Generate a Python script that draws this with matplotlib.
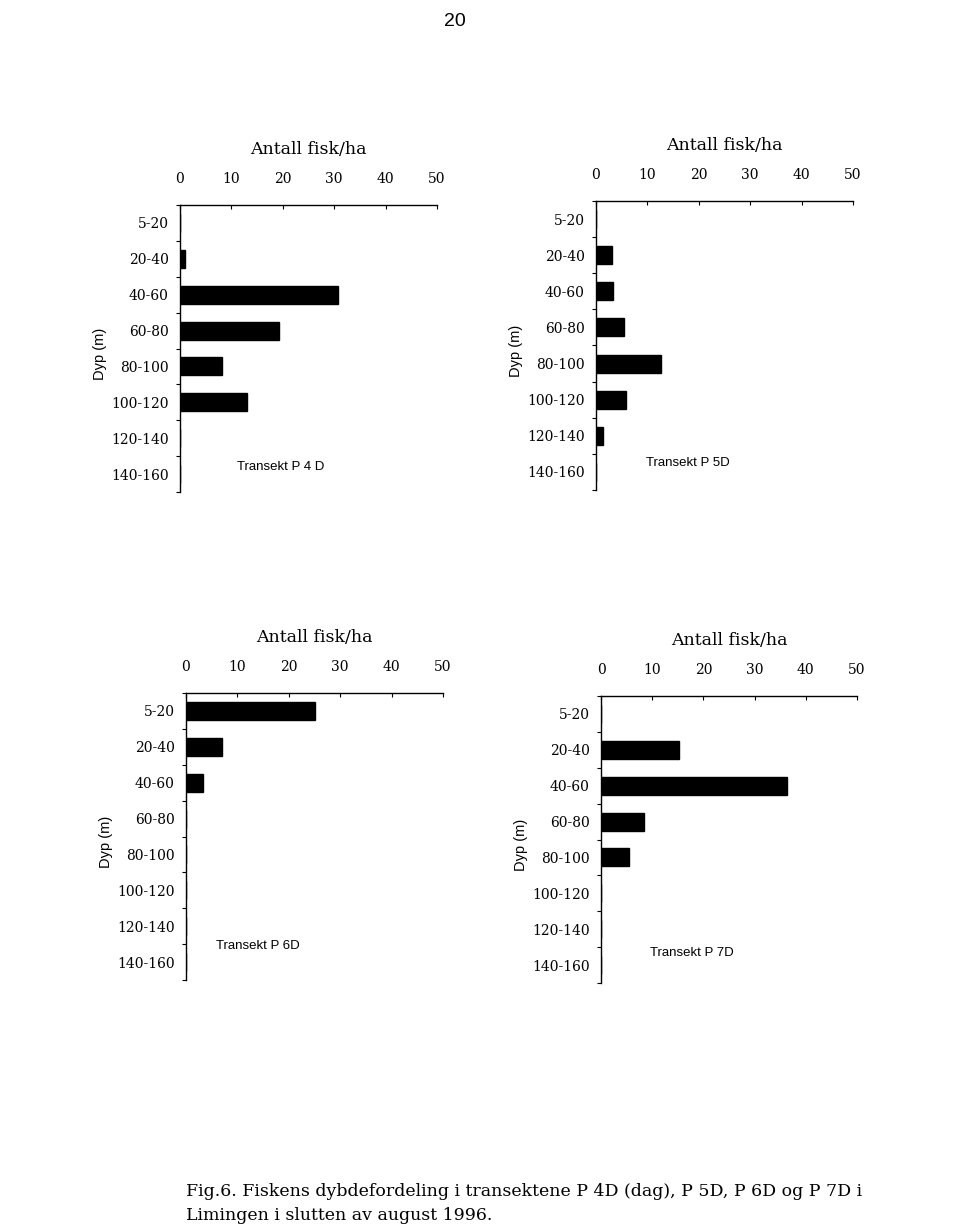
"""Fiskens dybdefordeling i transektene P 4D, P 5D, P 6D og P 7D (Limingen, aug. 1996)."""

import matplotlib
matplotlib.use("Agg")
import matplotlib.pyplot as plt
import numpy as np

SERIF = "DejaVu Serif"
SANS = "Liberation Sans"

# ── Data ──────────────────────────────────────────────────────────────────────
dyp = ["5-20", "20-40", "40-60", "60-80", "80-100", "100-120", "120-140", "140-160"]

p4d = [0, 1.0, 30.8, 19.2, 8.1, 13.0, 0, 0]
p5d = [0, 3.1, 3.3, 5.5, 12.6, 5.8, 1.4, 0]
p6d = [25.1, 7.1, 3.4, 0, 0, 0, 0, 0]
p7d = [0, 15.3, 36.4, 8.4, 5.4, 0, 0, 0]

transekt = ["Transekt P 4 D", "Transekt P 5D", "Transekt P 6D", "Transekt P 7D"]
serier = [p4d, p5d, p6d, p7d]

# ── Figure ────────────────────────────────────────────────────────────────────
W, H = 960, 1227
fig = plt.figure(figsize=(W / 100, H / 100), dpi=100)
fig.patch.set_facecolor("white")


def px_axes(x0, y_top, x1, y_bot):
    return fig.add_axes([x0 / W, 1 - y_bot / H, (x1 - x0) / W, (y_bot - y_top) / H])


# (left, top, right, bottom) in pixels, plus label position of "Transekt"
boxes = [
    (180, 205, 437, 492),
    (596, 201, 853, 490),
    (186, 693, 443, 980),
    (601, 696, 857, 983),
]
label_pos = [(11.0, 6.8), (9.7, 6.75), (5.8, 6.55), (9.5, 6.65)]

y = np.arange(len(dyp))

for (x0, yt, x1, yb), vals, navn, (lx, ly) in zip(boxes, serier, transekt, label_pos):
    ax = px_axes(x0, yt, x1, yb)
    ax.barh(y, vals, height=0.5, color="black", edgecolor="black")

    ax.set_xlim(0, 50)
    ax.set_ylim(len(dyp) - 0.5, -0.5)

    for s in ["right", "bottom"]:
        ax.spines[s].set_visible(False)
    ax.spines["left"].set_linewidth(1.0)
    ax.spines["top"].set_linewidth(1.0)

    ax.xaxis.tick_top()
    ax.set_xticks([0, 10, 20, 30, 40, 50])
    ax.tick_params(axis="x", which="major", direction="in", length=3, width=0.8,
                   pad=14, labelsize=10)
    for lbl in ax.get_xticklabels():
        lbl.set_fontfamily(SERIF)

    # boundary ticks (major) + labels at centres (minor)
    ax.set_yticks(np.arange(len(dyp) + 1) - 0.5)
    ax.set_yticklabels([])
    ax.tick_params(axis="y", which="major", direction="out", length=3, width=0.8)
    ax.set_yticks(y, minor=True)
    ax.set_yticklabels(dyp, minor=True, fontfamily=SERIF, fontsize=10)
    ax.tick_params(axis="y", which="minor", length=0, pad=8)

    ax.text(0.5, 1 + 55 / 287, "Antall fisk/ha", transform=ax.transAxes,
            ha="center", va="center", fontfamily=SERIF, fontsize=12.5)
    ax.text(-80 / 257, 0.48, "Dyp (m)", transform=ax.transAxes, rotation=90,
            ha="center", va="center", fontfamily=SANS, fontsize=10.5)
    ax.text(lx, ly, navn, ha="left", va="center", fontfamily=SANS, fontsize=9.5)

fig.text(455 / W, 1 - 22 / H, "20", ha="center", va="center",
         fontfamily=SANS, fontsize=14)
fig.text(186 / W, 1 - 1192 / H,
         "Fig.6. Fiskens dybdefordeling i transektene P 4D (dag), P 5D, P 6D og P 7D i",
         ha="left", va="center", fontfamily=SERIF, fontsize=12.5)
fig.text(186 / W, 1 - 1216 / H, "Limingen i slutten av august 1996.",
         ha="left", va="center", fontfamily=SERIF, fontsize=12.5)

fig.savefig("out.png", dpi=100, facecolor="white")
plt.close(fig)
